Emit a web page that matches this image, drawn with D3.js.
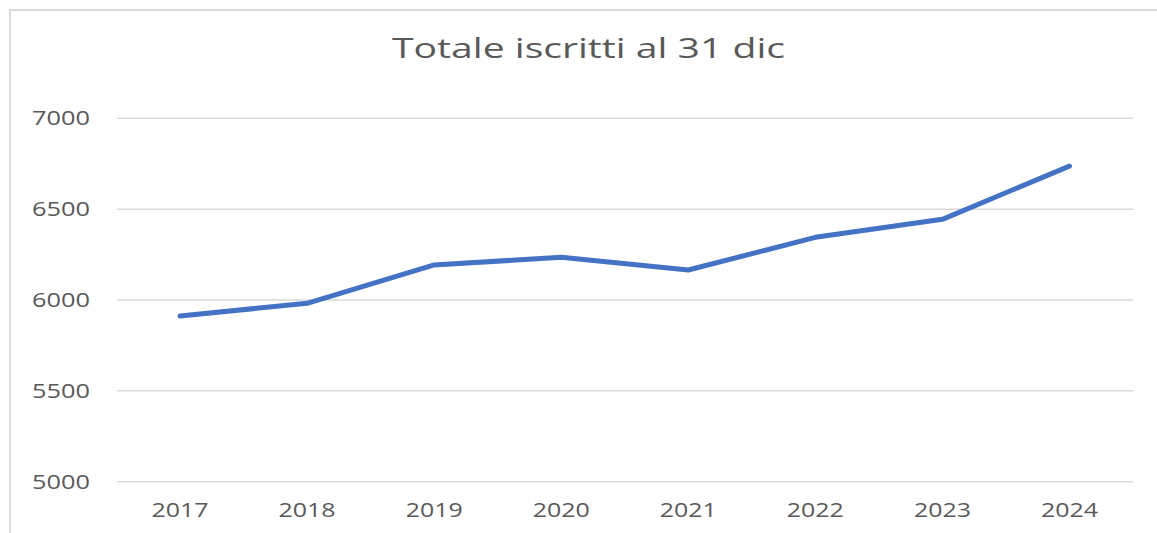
<html>
<head>
<meta charset="utf-8">
<script src="https://d3js.org/d3.v7.min.js"></script>
<style>
  body { margin: 0; background: #fff; }
  text { font-family: "Open Sans", Lato, sans-serif; fill: #595959; }
</style>
</head>
<body>
<svg id="chart"></svg>
<script>
var years = ["2017", "2018", "2019", "2020", "2021", "2022", "2023", "2024"];
var iscritti = [5912, 5982, 6193, 6235, 6165, 6345, 6444, 6737];
var yTicks = [5000, 5500, 6000, 6500, 7000];

var width = 1157, height = 533;
var svg = d3.select("#chart").attr("width", width).attr("height", height);

// chart frame (cut off at right and bottom in the original)
svg.append("rect")
  .attr("x", 10).attr("y", 10)
  .attr("width", width + 20).attr("height", height + 20)
  .attr("fill", "none")
  .attr("stroke", "#d9d9d9")
  .attr("stroke-width", 2);

var x = d3.scaleBand().domain(years).range([116.5, 1133]);
var y = d3.scaleLinear().domain([5000, 7000]).range([481.7, 118.3]);

// gridlines
svg.append("g")
  .selectAll("line")
  .data(yTicks)
  .join("line")
  .attr("x1", 117).attr("x2", 1133)
  .attr("y1", function(d) { return y(d); })
  .attr("y2", function(d) { return y(d); })
  .attr("stroke", "#d9d9d9")
  .attr("stroke-width", 1.5);

// y axis labels
var yAxis = svg.append("g")
  .attr("transform", "translate(100,0)")
  .call(d3.axisLeft(y).tickValues(yTicks).tickFormat(d3.format("d")).tickSize(0).tickPadding(10));
yAxis.select(".domain").remove();
yAxis.selectAll("text")
  .style("font-size", "20px")
  .attr("fill", "#595959")
  .attr("textLength", 58)
  .attr("lengthAdjust", "spacingAndGlyphs");

// x axis labels
var xAxis = svg.append("g")
  .attr("transform", "translate(0,498)")
  .call(d3.axisBottom(x).tickSize(0).tickPadding(5));
xAxis.select(".domain").remove();
xAxis.selectAll("text")
  .style("font-size", "20px")
  .attr("fill", "#595959")
  .attr("textLength", 57)
  .attr("lengthAdjust", "spacingAndGlyphs");

// line
var line = d3.line()
  .x(function(d, i) { return x(years[i]) + x.bandwidth() / 2; })
  .y(function(d) { return y(d); });

svg.append("path")
  .datum(iscritti)
  .attr("d", line)
  .attr("fill", "none")
  .attr("stroke", "#4472c4")
  .attr("stroke-width", 5)
  .attr("stroke-linecap", "round")
  .attr("stroke-linejoin", "round");

// title
svg.append("text")
  .attr("x", 588.5).attr("y", 58)
  .attr("text-anchor", "middle")
  .style("font-size", "28px")
  .attr("textLength", 393)
  .attr("lengthAdjust", "spacingAndGlyphs")
  .text("Totale iscritti al 31 dic");
</script>
</body>
</html>
